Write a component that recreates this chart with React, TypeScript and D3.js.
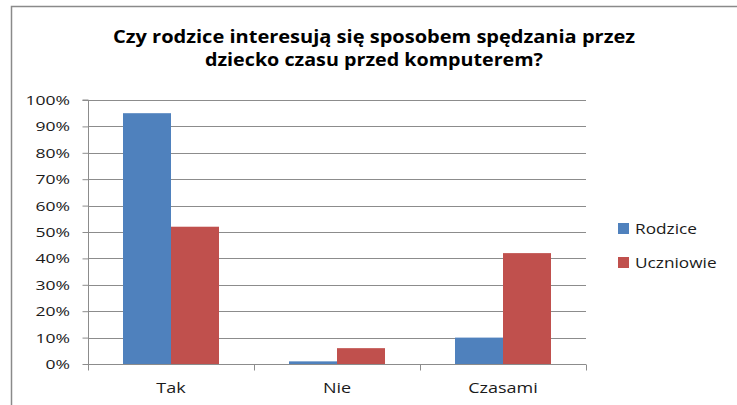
import React, { useEffect, useRef } from 'react';
import * as d3 from 'd3';

const categories = ['Tak', 'Nie', 'Czasami'];
const seriesNames = ['Rodzice', 'Uczniowie'];
const rodzice = [0.95, 0.01, 0.1];
const uczniowie = [0.52, 0.06, 0.42];
const yTicks = [0, 0.1, 0.2, 0.3, 0.4, 0.5, 0.6, 0.7, 0.8, 0.9, 1];
const titleLines = ['Czy rodzice interesują się sposobem spędzania przez', 'dziecko czasu przed komputerem?'];

const colors = ['#4F81BD', '#C0504D'];
const font = "'Open Sans', 'Liberation Sans', sans-serif";

type Sel = d3.Selection<any, any, any, any>;

// text with a horizontal stretch, the source font is wider than what we have
function stretchedText(parent: Sel, x: number, y: number, str: string, size: number, anchor: string, sx: number) {
  parent.append('g')
    .attr('transform', `translate(${x},${y}) scale(${sx},1)`)
    .append('text')
    .attr('text-anchor', anchor)
    .attr('font-family', font)
    .attr('font-size', size)
    .attr('fill', '#1a1a1a')
    .text(str);
}

const App: React.FC = () => {
  const svgRef = useRef<SVGSVGElement>(null);

  useEffect(() => {
    if (!svgRef.current) return;
    const svg = d3.select(svgRef.current);
    svg.selectAll('*').remove();

    const width = 737;
    const height = 405;
    const left = 88;
    const right = 586;
    const top = 100;
    const bottom = 364;

    svg.append('rect').attr('width', width).attr('height', height).attr('fill', '#fff');
    // chart border
    svg.append('rect')
      .attr('x', 11.5).attr('y', 6.5)
      .attr('width', width + 10).attr('height', height + 10)
      .attr('fill', 'none').attr('stroke', '#8a8a8a').attr('stroke-width', 1.5);

    // title
    svg.append('g').selectAll('text')
      .data(titleLines)
      .join('text')
      .attr('x', 374)
      .attr('y', (_, i) => 43 + i * 23)
      .attr('text-anchor', 'middle')
      .attr('font-family', font)
      .attr('font-weight', 'bold')
      .attr('font-size', 18)
      .attr('fill', '#000')
      .attr('textLength', (_, i) => (i === 0 ? 522 : 338))
      .attr('lengthAdjust', 'spacingAndGlyphs')
      .text(d => d);

    const x = d3.scaleBand().domain(categories).range([left, right]).paddingInner(0).paddingOuter(0);
    const inner = d3.scaleBand().domain(seriesNames).range([35, x.bandwidth() - 35]);
    const y = d3.scaleLinear().domain([0, 1]).range([bottom, top]);

    // gridlines
    svg.append('g').selectAll('line')
      .data(yTicks.filter(t => t > 0))
      .join('line')
      .attr('x1', left).attr('x2', right)
      .attr('y1', d => Math.round(y(d)) + 0.5).attr('y2', d => Math.round(y(d)) + 0.5)
      .attr('stroke', '#8c8c8c');

    // bars
    const data = categories.map((c, i) => ({ c, vals: [rodzice[i], uczniowie[i]] }));
    const groups = svg.append('g').selectAll('g')
      .data(data)
      .join('g')
      .attr('transform', d => `translate(${x(d.c)},0)`);
    groups.selectAll('rect')
      .data(d => d.vals.map((v, k) => ({ v, k })))
      .join('rect')
      .attr('x', d => inner(seriesNames[d.k]) as number)
      .attr('width', inner.bandwidth())
      .attr('y', d => y(d.v))
      .attr('height', d => bottom - y(d.v))
      .attr('fill', d => colors[d.k]);

    // y axis
    const yAxis = svg.append('g')
      .attr('transform', `translate(${left + 0.5},0)`)
      .call(d3.axisLeft(y).tickValues(yTicks).tickFormat(() => '').tickSize(6));
    yAxis.select('.domain').attr('stroke', '#8c8c8c').attr('d', `M-6,${top}H0V${bottom}`);
    yAxis.selectAll('.tick line').attr('stroke', '#8c8c8c');
    const fmt = d3.format('.0%');
    const yLabels = svg.append('g');
    yTicks.forEach(t => stretchedText(yLabels, 70, y(t) + 5, fmt(t), 13.5, 'end', 1.3));

    // x axis
    const xAxis = svg.append('g').attr('transform', `translate(0,${bottom + 0.5})`);
    xAxis.append('line').attr('x1', left).attr('x2', right).attr('stroke', '#8c8c8c');
    xAxis.selectAll('line.tk')
      .data([left, ...categories.map(c => (x(c) as number) + x.bandwidth())])
      .join('line')
      .attr('class', 'tk')
      .attr('x1', d => d + 0.5).attr('x2', d => d + 0.5)
      .attr('y1', 0).attr('y2', 6)
      .attr('stroke', '#8c8c8c');
    const xLabels = svg.append('g');
    categories.forEach(c => stretchedText(xLabels, (x(c) as number) + x.bandwidth() / 2, 393, c, 15, 'middle', 1.2));

    // legend
    const legend = svg.append('g');
    seriesNames.forEach((s, i) => {
      legend.append('rect')
        .attr('x', 618).attr('y', 223 + i * 34)
        .attr('width', 11).attr('height', 11)
        .attr('fill', colors[i]);
      stretchedText(legend, 635, 234 + i * 34, s, 15, 'start', 1.15);
    });
  }, []);

  return (
    <svg ref={svgRef} width={737} height={405}
      style={{ position: 'absolute', left: 0, top: 0, display: 'block' }} />
  );
};

export default App;
